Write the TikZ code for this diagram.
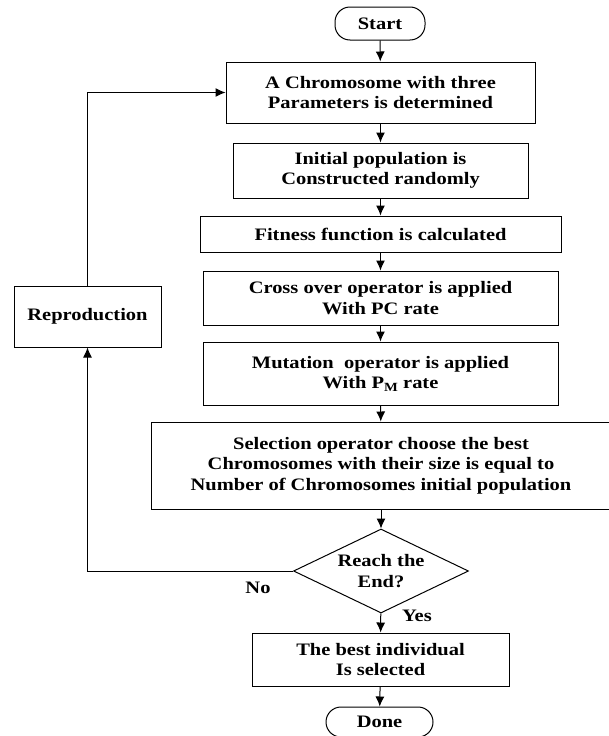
\documentclass[tikz,border=0pt]{standalone}
\usepackage{fontspec}
\setmainfont{Liberation Serif}[FakeStretch=1.17]
\usetikzlibrary{arrows.meta, shapes.geometric}

\tikzset{
    process/.style = {draw, line width=1pt, align=center, inner sep=0pt},
    terminal/.style = {draw, line width=1pt, rounded corners=15pt, inner sep=0pt},
    decision/.style = {draw, line width=1pt, diamond, align=center, inner sep=0pt},
    flow/.style = {line width=1pt, -{Latex[length=10pt, width=9pt]}}
}

\begin{document}
\begin{tikzpicture}[x=1pt, y=-1pt, font=\fontsize{17.5}{20.5}\selectfont\bfseries]
    \useasboundingbox (0,0) rectangle (608,736);
    \node (start) at (380,23.5) [terminal, minimum width=90pt, minimum height=33pt] {Start};
    \node (chrom) at (380.5,92.5) [process, minimum width=309pt, minimum height=61pt] {A Chromosome with three\\Parameters is determined};
    \node (init) at (380.5,170.5) [process, minimum width=295pt, minimum height=55pt] {Initial population is\\Constructed randomly};
    \node (fit) at (380.5,234) [process, minimum width=361pt, minimum height=36pt] {Fitness function is calculated};
    \node (cross) at (380.5,298) [process, minimum width=355pt, minimum height=54pt] {Cross over operator is applied\\With PC rate};
    \node (mut) at (380.5,373.5) [process, minimum width=355pt, minimum height=63pt] {Mutation\ \ operator is applied\\With P\raisebox{-0.3ex}{\fontsize{12.5}{12.5}\selectfont M} rate};
    \node (select) at (381,465.5) [process, minimum width=460pt, minimum height=87pt] {Selection operator choose the best\\Chromosomes with their size is equal to\\Number of Chromosomes initial population};
    \node (reach) at (381,571) [decision, minimum width=175pt, minimum height=84pt, aspect=2.08] {Reach the\\End?};
    \node (best) at (380.5,659.5) [process, minimum width=257pt, minimum height=53pt] {The best individual\\Is selected};
    \node (done) at (379.5,722) [terminal, minimum width=107pt, minimum height=30pt] {Done};
    \node (repro) at (87.5,316.5) [process, minimum width=147pt, minimum height=61pt] {Reproduction};
    \node (no) at (258,588) {No};
    \node (yes) at (417,616) {Yes};

    \draw [flow] (start) -- (chrom);
    \draw [flow] (chrom) -- (init);
    \draw [flow] (init) -- (fit);
    \draw [flow] (fit) -- (cross);
    \draw [flow] (cross) -- (mut);
    \draw [flow] (mut) -- (select);
    \draw [flow] (select) -- (reach);
    \draw [flow] (reach) -- (best);
    \draw [flow] (best) -- (done);
    \draw [flow] (reach.west) -| (repro.south);
    \draw [flow] (repro.north) |- (chrom.west);
\end{tikzpicture}
\end{document}
